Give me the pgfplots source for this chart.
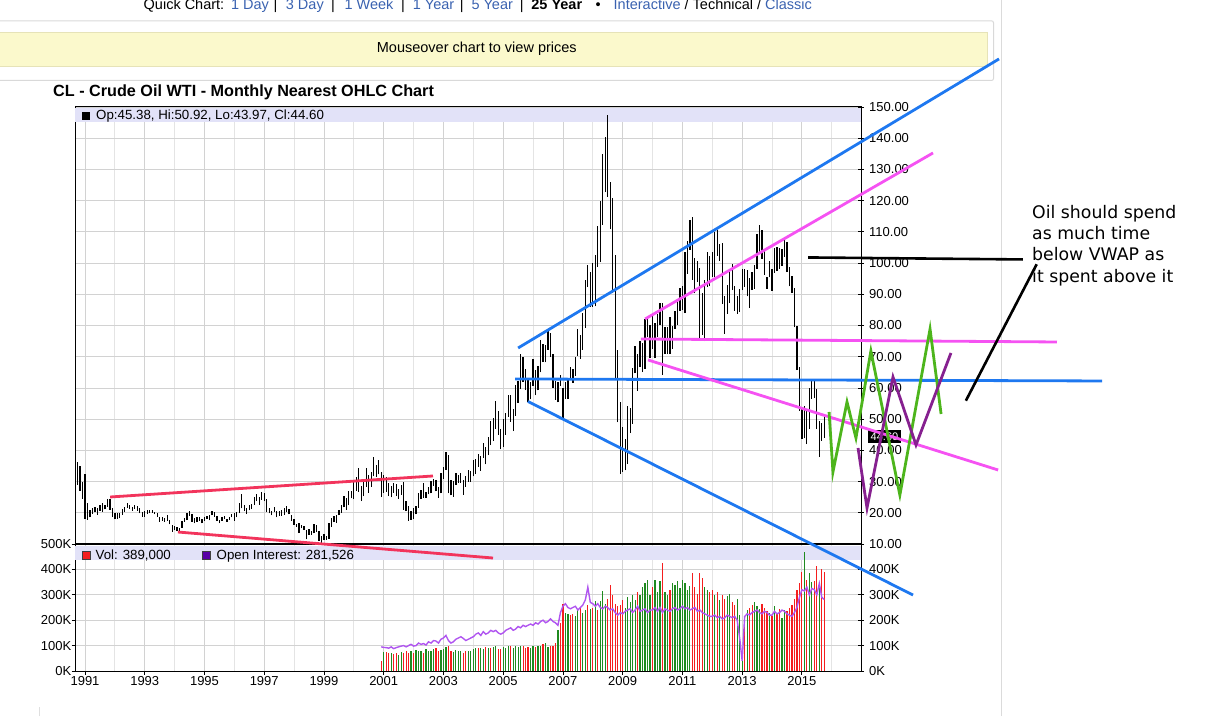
\documentclass[border=0pt]{standalone}
\usepackage{pgfplots}
\usepackage{pgfplotstable}
\pgfplotsset{compat=1.18}
\usepackage{fontspec}
\setmainfont{Liberation Sans}
\newfontfamily\annfont{DejaVu Sans}
\definecolor{gridc}{HTML}{D2D2D2}
\definecolor{gridm}{HTML}{E4E4E4}
\definecolor{band}{HTML}{E2E2F8}
\definecolor{linkc}{HTML}{3A62B0}
\definecolor{trendred}{HTML}{F2345C}
\definecolor{trendblue}{HTML}{1E78F0}
\definecolor{trendmag}{HTML}{F552F2}
\definecolor{zigg}{HTML}{4DB51C}
\definecolor{zigp}{HTML}{86208F}
\definecolor{volr}{HTML}{F51E1E}
\definecolor{volg}{HTML}{1F8A1F}
\definecolor{oic}{HTML}{B055F0}
\definecolor{ylw}{HTML}{FBF9CC}
\definecolor{ylwb}{HTML}{E6E3B8}

\pgfplotstableread[row sep=\\]{
lo hi\\
29 36.3\\ 27 35\\ 24.5 30\\
18 32.5\\ 17.8 23\\ 18.5 20.8\\ 19.6 21.6\\ 20.2 21.8\\ 19.4 21.6\\ 20.6 22.4\\ 20.4 23.2\\ 21.1 22.6\\ 22 24.5\\ 21 24.3\\ 18.6 21.5\\
17.9 19.8\\ 18.1 19.9\\ 18.2 19.9\\ 19.3 21.2\\ 20.2 21.9\\ 21.6 23\\ 21.3 22.6\\ 20.7 21.9\\ 21.3 22.5\\ 20.6 22.3\\ 19.8 21.4\\ 18.8 20.3\\
18.7 20.5\\ 19.6 20.8\\ 19.8 20.9\\ 20 21\\ 19.5 20.4\\ 18.7 19.8\\ 17.2 18.8\\ 17.5 18.6\\ 17 18.4\\ 17.4 19.2\\ 16.3 17.6\\ 13.9 16\\
14.4 15.9\\ 14.1 15.4\\ 14 15.2\\ 15.2 17.5\\ 17.2 18.4\\ 17.8 19.9\\ 18.9 20.5\\ 17.2 19.5\\ 16.6 18.2\\ 17 18.7\\ 17.5 18.8\\ 16.6 17.9\\
17.5 18.8\\ 18 18.9\\ 17.6 19.4\\ 19.2 20.7\\ 18.6 20.4\\ 17.4 19\\ 16.6 17.8\\ 17.5 18.5\\ 17.9 18.9\\ 17.1 18.1\\ 17.7 18.5\\ 18.5 19.7\\
17.5 19.9\\ 18.5 20.3\\ 19.9 23.2\\ 21.4 25.9\\ 20.5 22.6\\ 19.6 21.6\\ 20.8 22.4\\ 21.2 22.7\\ 22.5 25\\ 23.8 25.9\\ 22.5 24.9\\ 24.2 26.7\\
23.7 26.2\\ 20.2 24.4\\ 19.8 21.6\\ 19.2 20.7\\ 20.2 22\\ 18.5 20.5\\ 19 20.7\\ 19.1 20.8\\ 19.3 21.5\\ 20.3 22.3\\ 19.5 21.2\\ 17.5 19.2\\
16.1 18\\ 15.4 16.5\\ 13.5 16.8\\ 15 16.2\\ 14.5 15.8\\ 11.5 14.5\\ 13 14.7\\ 12.9 14.1\\ 13.4 16.3\\ 13.8 16.2\\ 11 14.2\\ 10.4 12.5\\
11.3 13.1\\ 11.4 12.5\\ 11.7 16.6\\ 15.6 18.4\\ 17 19\\ 16.7 19.3\\ 19.2 20.8\\ 19.9 22.5\\ 21.7 25.3\\ 21 24.8\\ 22.4 27.1\\ 24.6 27\\
24.3 30.6\\ 27.1 31.5\\ 26.6 34.4\\ 23.7 28.5\\ 25.3 30.1\\ 28.3 34.4\\ 26.4 32\\ 28.3 33\\ 31.7 37.8\\ 31.4 35.4\\ 32.3 37\\ 25 33.2\\
26.5 32.2\\ 26.8 31.6\\ 25.3 29.5\\ 24.9 28.5\\ 26.5 29.7\\ 25.3 29.2\\ 24.5 27.7\\ 25.8 28.8\\ 21 30\\ 20.5 23.7\\ 17.5 22.3\\ 17.8 20.5\\
17.9 21.5\\ 19.5 22.3\\ 21.6 26.3\\ 24.4 27.4\\ 24.8 29.4\\ 24.8 26.8\\ 25.9 28.2\\ 26.2 30.3\\ 28.7 30.9\\ 26.9 30.4\\ 24.7 28.3\\ 26.2 32.7\\
30.9 34.7\\ 33.8 39.5\\ 26.2 38.4\\ 25.6 30.5\\ 25.2 30.3\\ 29 32.9\\ 29.5 32.2\\ 29.7 32.8\\ 25.8 30.4\\ 28.3 31.9\\ 29.9 33.8\\ 29.8 33.4\\
31.7 36.8\\ 32.4 37.1\\ 34.8 38.7\\ 33.4 38.2\\ 37.5 42.3\\ 35.5 41.2\\ 38.5 44.3\\ 41.7 49.4\\ 43 50.5\\ 46.9 55.7\\ 45 52.5\\ 40.3 46.8\\
41.2 50\\ 45 52\\ 50.8 57.6\\ 49.1 57.6\\ 46.2 53.3\\ 51.1 60.9\\ 55.2 62.3\\ 59.6 70.9\\ 62 70\\ 59.3 66.1\\ 55.6 62.4\\ 56.3 61.8\\
60.6 69.2\\ 57.6 65.8\\ 59.2 66.9\\ 65 75.4\\ 68.3 74.2\\ 68.2 73.8\\ 72.3 78.4\\ 70 77.6\\ 60 71\\ 56.2 62.2\\ 55.4 61.9\\ 60.6 64.2\\
50.5 60\\ 56.5 61.9\\ 56.6 62.5\\ 62.4 66.8\\ 61.5 66.2\\ 63.9 69.9\\ 70.3 78.8\\ 69.3 77\\ 72.2 84\\ 79.2 94.5\\ 92.3 99.3\\ 85.9 97.3\\
86 100.1\\ 86.1 102.5\\ 98.7 111.8\\ 100.3 119.9\\ 112.2 135\\ 122.7 140.4\\ 121.3 147.3\\ 110.8 126.1\\ 90.5 120.9\\ 62.4 102.5\\ 49 72.1\\ 32.4 55.6\\
33.1 47.6\\ 33.6 43.7\\ 35.6 54.1\\ 45.5 53.7\\ 48.6 66.5\\ 64.7 73.4\\ 59.1 71\\ 66.7 75\\ 65.1 74.4\\ 66.1 82\\ 76.3 82\\ 69.5 80.1\\
72.4 83.9\\ 69.5 80.8\\ 76.4 83.8\\ 80.3 87.2\\ 64.2 87.2\\ 70.8 79.5\\ 70.8 79.5\\ 70.8 82.7\\ 72.6 80\\ 79 84.6\\ 80.3 88.6\\ 84.6 91.9\\
85.1 92.6\\ 84 103.4\\ 96.6 107\\ 104.3 113.9\\ 94.6 114.8\\ 90.3 101.5\\ 93.9 100.6\\ 75.7 98.5\\ 77.1 90.5\\ 75 94.7\\ 92.3 103.4\\ 92.5 102.4\\
95.4 103.7\\ 95.4 109.8\\ 102.4 110.6\\ 100.7 106.2\\ 86.9 106.4\\ 77.3 89.3\\ 83.7 92.9\\ 87.2 97.8\\ 91.3 99.8\\ 84.7 92.7\\ 83.8 89.4\\ 84.3 91.7\\
91.3 98.2\\ 92.4 98.2\\ 89.3 97.8\\ 85.6 95.2\\ 91.3 97.3\\ 91.8 99.3\\ 98.1 109.3\\ 103.1 112.2\\ 101.4 110.7\\ 96.3 104.4\\ 91.8 95.6\\ 95.4 100.7\\
91.2 98.2\\ 96.8 104.9\\ 97.4 105.2\\ 98.2 104.9\\ 99.1 104.5\\ 102 107.7\\ 97.1 106.6\\ 92.5 98.9\\ 90.4 95.7\\ 79.4 91.9\\ 65.7 79.8\\ 52.7 66.6\\
43.6 54\\ 43.8 54.2\\ 42 52.5\\ 46.8 59.9\\ 56.5 62.6\\ 56.7 62.4\\ 46.8 59.5\\ 37.8 49.3\\ 43.1 48.7\\ 43.97 50.92\\
}\pricetable

\pgfplotstableread[row sep=\\]{
v u oi\\
40 0 95\\
75 1 93\\ 75 0 92\\ 72 0 90\\ 70 1 95\\ 68 0 88\\ 72 0 92\\ 62 1 95\\ 75 1 98\\ 70 0 100\\ 80 0 95\\ 72 0 100\\ 78 1 105\\
70 0 98\\ 82 1 100\\ 78 1 110\\ 80 1 105\\ 72 0 108\\ 85 1 102\\ 78 1 115\\ 80 1 110\\ 88 1 120\\ 92 0 118\\ 78 0 110\\ 82 1 125\\
85 1 130\\ 95 1 140\\ 100 0 120\\ 80 0 110\\ 75 1 115\\ 82 1 125\\ 80 1 130\\ 78 1 135\\ 72 0 128\\ 80 0 120\\ 78 1 125\\ 80 1 130\\
85 1 135\\ 90 1 145\\ 92 0 150\\ 90 1 140\\ 88 1 155\\ 95 0 145\\ 90 1 150\\ 92 0 160\\ 95 1 155\\ 100 1 160\\ 88 0 150\\ 85 0 145\\
95 1 150\\ 92 1 160\\ 100 1 165\\ 98 0 170\\ 90 1 160\\ 98 1 165\\ 95 1 175\\ 100 1 170\\ 98 0 180\\ 92 0 175\\ 95 0 180\\ 90 1 185\\
100 1 180\\ 95 0 190\\ 100 1 185\\ 98 1 195\\ 105 0 200\\ 110 1 190\\ 95 1 195\\ 100 0 205\\ 100 0 195\\ 110 0 190\\ 160 1 180\\ 190 0 230\\
265 0 255\\ 230 1 265\\ 225 1 250\\ 220 0 245\\ 225 0 250\\ 215 1 255\\ 245 1 240\\ 250 0 250\\ 230 1 260\\ 240 1 280\\ 260 0 330\\ 245 1 270\\
250 0 265\\ 275 1 255\\ 240 0 265\\ 275 1 250\\ 315 1 245\\ 265 1 255\\ 285 0 250\\ 340 0 240\\ 300 0 245\\ 265 0 230\\ 255 0 220\\ 260 0 230\\
280 0 225\\ 250 1 235\\ 290 1 240\\ 270 1 245\\ 300 1 230\\ 280 1 240\\ 310 0 255\\ 300 1 235\\ 330 1 240\\ 345 1 245\\ 360 1 230\\ 300 1 240\\
330 0 240\\ 360 1 250\\ 310 1 235\\ 355 1 250\\ 425 0 230\\ 310 1 245\\ 300 1 240\\ 320 0 235\\ 345 1 245\\ 340 1 250\\ 355 1 240\\ 325 1 245\\
360 1 255\\ 345 1 245\\ 320 1 250\\ 335 1 240\\ 385 0 245\\ 330 0 250\\ 305 0 235\\ 385 0 240\\ 365 0 230\\ 330 1 225\\ 320 1 220\\ 310 0 215\\
320 0 215\\ 300 1 220\\ 310 0 210\\ 280 1 215\\ 300 0 205\\ 285 0 210\\ 295 1 220\\ 305 1 215\\ 270 0 210\\ 260 0 215\\ 285 1 200\\ 220 1 130\\
45 1 40\\ 175 0 215\\ 240 1 225\\ 250 0 220\\ 260 0 230\\ 270 1 235\\ 255 1 240\\ 245 1 230\\ 265 0 225\\ 250 0 235\\ 235 0 230\\ 230 1 220\\
215 0 220\\ 255 1 235\\ 230 0 225\\ 245 0 230\\ 210 1 240\\ 240 1 235\\ 235 0 225\\ 250 0 220\\ 260 0 215\\ 285 0 230\\ 320 0 250\\ 345 0 290\\
390 0 320\\ 470 1 315\\ 360 0 330\\ 385 1 300\\ 350 1 325\\ 355 0 320\\ 415 0 300\\ 345 1 345\\ 400 0 290\\ 389 0 281.5\\
}\voltable

\pgfplotsset{
  chartbase/.style={
    scale only axis, anchor=south west, width=786pt,
    xmin=1990.665, xmax=2016.979,
    /pgf/number format/assume math mode=true,
    /pgf/number format/1000 sep={},
    tick label style={font=\fontsize{13}{15}\selectfont},
    axis line style={black, line width=1pt},
  },
}

\begin{document}
\begin{tikzpicture}[x=1pt,y=1pt]
\useasboundingbox (0,0) rectangle (1212,716);

% page elements
\draw[gray!28, line width=1pt] (1001.7,0) -- (1001.7,716);
\draw[gray!25, line width=1pt] (39.5,0) -- (39.5,9.5);
\draw[gray!30, line width=1pt, rounded corners=2pt] (-3,716-20.8) rectangle (993.5,716-80.5);
\filldraw[fill=ylw, draw=ylwb, line width=1pt] (-3,716-32.3) rectangle (987.3,716-66.7);
\node[anchor=base, font=\fontsize{14.5}{16}\selectfont, inner sep=0pt] at (476.8,716-53) {Mouseover chart to view prices};

% header links
\begin{scope}[every node/.style={anchor=base west, inner sep=0pt, font=\fontsize{14.5}{16}\selectfont}]
\node at (143.5,706.3) {Quick Chart:};
\node[text=linkc] at (230.9,706.3) {1 Day};
\node[text=linkc] at (285.7,706.3) {3 Day};
\node[text=linkc] at (344.4,706.3) {1 Week};
\node[text=linkc] at (412.6,706.3) {1 Year};
\node[text=linkc] at (471.3,706.3) {5 Year};
\node[font=\bfseries\fontsize{14.5}{16}\selectfont] at (531.2,706.3) {25 Year};
\node at (613.5,706.3) {\textcolor{linkc}{Interactive} / Technical / \textcolor{linkc}{Classic}};
\end{scope}
\begin{scope}[every node/.style={anchor=base, inner sep=0pt, font=\fontsize{14.5}{16}\selectfont}]
\node at (275.5,706.3) {|};
\node at (333,706.3) {|};
\node at (403,706.3) {|};
\node at (461.7,706.3) {|};
\node at (521.7,706.3) {|};
\node at (598.2,706.3) {•};
\end{scope}

% title
\node[anchor=base west, inner sep=0pt, font=\bfseries\fontsize{16.2}{18}\selectfont] at (53,716-96.5) {CL - Crude Oil WTI - Monthly Nearest OHLC Chart};

% ---------- price panel ----------
\begin{axis}[chartbase,
  at={(75pt,172pt)}, height=437pt,
  ymin=10, ymax=150,
  xtick={1991,1993,...,2015}, minor xtick={1992,1994,...,2016},
  xticklabels={}, x tick style={draw=none}, minor tick length=0pt,
  ytick={10,20,...,150}, ytick pos=right, yticklabel pos=right,
  tick align=center, major tick length=6pt,
  y tick style={black, line width=0.8pt},
  yticklabel style={anchor=west, inner sep=0pt, xshift=5pt,
    /pgf/number format/fixed, /pgf/number format/fixed zerofill, /pgf/number format/precision=2},
  grid=both, major grid style={gridc, line width=0.8pt}, minor grid style={gridm, line width=0.8pt},
  clip=false,
]
\fill[band] (axis cs:1990.665,145.2) rectangle (axis cs:2016.979,149.7);
\addplot[draw=none, mark=none,
  error bars/.cd, y dir=plus, y explicit, error mark=none,
  error bar style={draw=black, solid, line width=1.25pt}]
  table[x expr=1990.75+\coordindex/12, y=lo, y error expr=\thisrow{hi}-\thisrow{lo}] {\pricetable};
\end{axis}

% ---------- volume panel ----------
\begin{axis}[chartbase,
  at={(75pt,45pt)}, height=127pt,
  ymin=0, ymax=500,
  xtick={1991,1993,...,2015}, minor xtick={1992,1994,...,2016}, minor tick length=0pt,
  xtick pos=bottom, ytick pos=left,
  ytick={0,100,...,500}, yticklabels={0K,100K,200K,300K,400K,500K},
  tick align=outside, major tick length=3.5pt,
  tick style={black, line width=0.8pt},
  yticklabel style={anchor=east, inner sep=0pt, xshift=0pt},
  xticklabel style={anchor=north, inner sep=0pt, yshift=-1.5pt},
  grid=both, major grid style={gridc, line width=0.8pt}, minor grid style={gridm, line width=0.8pt},
]
\fill[band] (axis cs:1990.665,437) rectangle (axis cs:2016.979,492);
\addplot[ycomb, volg, line width=1.2pt, mark=none, restrict expr to domain={\thisrow{u}}{0.5:1.5}]
  table[x expr=2000.9167+\coordindex/12, y=v] {\voltable};
\addplot[ycomb, volr, line width=1.2pt, mark=none, restrict expr to domain={\thisrow{u}}{-0.5:0.5}]
  table[x expr=2000.9167+\coordindex/12, y=v] {\voltable};
\addplot[oic, line width=1.4pt, mark=none]
  table[x expr=2000.9167+\coordindex/12, y=oi] {\voltable};
\end{axis}

% right-hand volume labels
\begin{axis}[chartbase,
  at={(75pt,45pt)}, height=127pt,
  ymin=0, ymax=500,
  axis x line=none, axis y line*=right,
  ytick={0,100,...,400}, yticklabels={0K,100K,200K,300K,400K},
  tick align=center, major tick length=6pt,
  y tick style={black, line width=0.8pt},
  yticklabel style={anchor=west, inner sep=0pt, xshift=5pt},
]
\end{axis}

% panel separator
\draw[black, line width=2.2pt] (75,172) -- (861,172);

% legend bands text
\filldraw[fill=black, draw=black] (82,716-119) rectangle (89,716-112);
\node[anchor=base west, inner sep=0pt, font=\fontsize{13.3}{15}\selectfont] at (96,716-119.5) {Op:45.38, Hi:50.92, Lo:43.97, Cl:44.60};
\filldraw[fill=volr, draw=black!75] (82,716-559) rectangle (90,716-551);
\node[anchor=base west, inner sep=0pt, font=\fontsize{13.3}{15}\selectfont] at (95.5,716-559.5) {Vol: 389,000};
\filldraw[fill=violet!70!blue, draw=black!75] (202,716-559) rectangle (210,716-551);
\node[anchor=base west, inner sep=0pt, font=\fontsize{13.3}{15}\selectfont] at (216.5,716-559.5) {Open Interest: 281,526};

% last price marker
\fill[black] (868,716-443) rectangle (901,716-430);
\node[text=white, inner sep=0pt, font=\fontsize{11}{12}\selectfont] at (884.5,716-436.5) {44.60};

% ---------- hand-drawn annotations ----------
\begin{axis}[chartbase,
  at={(75pt,172pt)}, height=437pt,
  ymin=10, ymax=150, hide axis, clip=false,
]
\addplot[trendred, line width=2.8pt] coordinates {(1991.84,25.06) (2002.65,31.79)};
\addplot[trendred, line width=2.8pt] coordinates {(1994.11,13.84) (2004.66,5.51)};
\addplot[trendblue, line width=2.8pt] coordinates {(2005.50,72.80) (2021.60,165.40)};
\addplot[trendblue, line width=2.8pt] coordinates {(2005.40,62.87) (2025.05,62.23)};
\addplot[trendblue, line width=2.8pt] coordinates {(2005.83,55.66) (2018.72,-6.34)};
\addplot[trendmag, line width=2.8pt] coordinates {(2009.75,82.09) (2019.39,135.28)};
\addplot[trendmag, line width=2.8pt] coordinates {(2009.61,75.68) (2023.54,74.72)};
\addplot[trendmag, line width=2.8pt] coordinates {(2009.85,68.96) (2021.57,33.71)};
\addplot[black, line width=2.6pt] coordinates {(2015.21,101.8) (2022.40,101.16)};
\addplot[black, line width=2.6pt] coordinates {(2020.49,55.91) (2022.86,99.62)};
\addplot[zigg, line width=2.8pt] coordinates {(2015.91,52.3) (2016.04,33.07) (2016.51,55.50) (2016.81,43.96) (2017.31,71.84) (2018.28,25.70) (2019.29,78.89) (2019.66,51.65)};
\addplot[zigp, line width=2.8pt] coordinates {(2016.88,40.76) (2017.18,21.53) (2018.05,63.51) (2018.82,41.72) (2019.99,71.20)};
\end{axis}

% annotation text
\begin{scope}[every node/.style={anchor=base west, inner sep=0pt, font=\annfont\fontsize{17.3}{21}\selectfont}]
\node at (1032,716-218.5) {Oil should spend};
\node at (1032,716-239.8) {as much time};
\node at (1032,716-261.0) {below VWAP as};
\node at (1032,716-282.0) {it spent above it};
\end{scope}
\end{tikzpicture}
\end{document}
